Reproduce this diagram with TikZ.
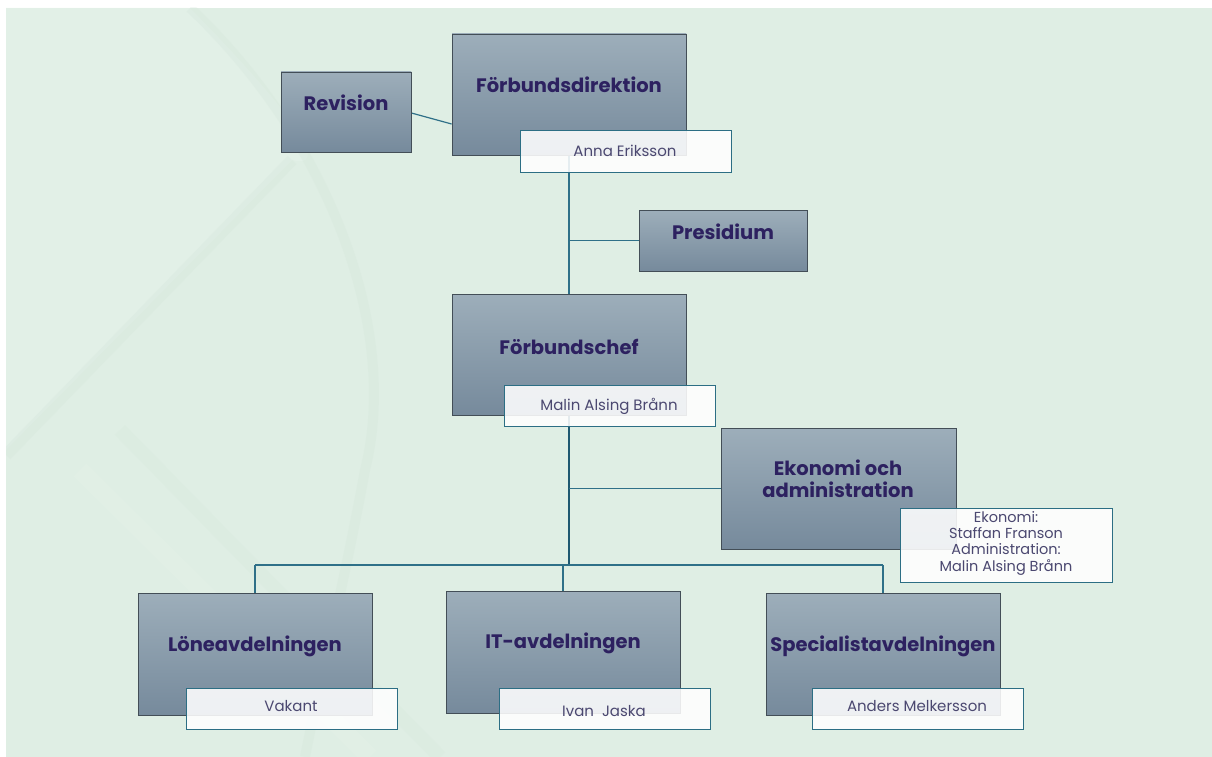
\documentclass[tikz,border=0pt]{standalone}
\usepackage{fontspec}
\setmainfont{Poppins}
\definecolor{bgc}{HTML}{DFEEE4}
\definecolor{bglight}{HTML}{E6F2EA}
\definecolor{bgdark}{HTML}{D2E4D8}
\definecolor{boxtop}{HTML}{9DAEBA}
\definecolor{boxbot}{HTML}{768A9C}
\definecolor{boxline}{HTML}{434E57}
\definecolor{teal2}{HTML}{2C6E84}
\definecolor{linec}{HTML}{2F7088}
\definecolor{linedark}{HTML}{1E5870}
\definecolor{titlec}{HTML}{2D2160}
\definecolor{namec}{HTML}{4B4870}
\begin{document}
\begin{tikzpicture}[x=1pt,y=-1pt,
  orgbox/.style={draw=boxline, line width=0.8pt, top color=boxtop, bottom color=boxbot, inner sep=0pt},
  namebox/.style={draw=teal2, line width=1pt, fill=white, fill opacity=0.88, inner sep=0pt, minimum width=211pt, minimum height=41pt},
  ttl/.style={font=\bfseries\fontsize{19.5}{22}\selectfont, text=titlec, align=center},
  person/.style={font=\fontsize{15}{16.3}\selectfont, text=namec, align=center},
  conn/.style={draw=linec, line width=1.2pt},
  mainconn/.style={draw=linedark, line width=2pt}]
% page and background
\useasboundingbox (0,0) rectangle (1212,757);
\fill[white] (0,0) rectangle (1212,757);
\fill[bgc] (6,8) rectangle (1212,757);
\begin{scope}
  \clip (6,8) rectangle (1212,757);
  \fill[bglight, opacity=0.5] (6,8) -- (190,8) .. controls (300,120) and (330,170) .. (292,160) -- (6,450) -- cycle;
  \draw[bgdark, line width=10pt, opacity=0.25] (190,8) .. controls (330,140) and (400,330) .. (365,470) .. controls (345,580) and (320,680) .. (305,757);
  \draw[bgdark, line width=12pt, opacity=0.25] (6,455) -- (292,160);
  \draw[bgdark, line width=14pt, opacity=0.18] (120,430) -- (440,757);
  \draw[bglight, line width=18pt, opacity=0.3] (80,470) -- (370,757);
\end{scope}
% box positions (named nodes)
\node[orgbox, minimum width=130pt, minimum height=80pt] (rev) at (346,112) {};
\node[orgbox, minimum width=234pt, minimum height=121pt] (dir) at (569,94.5) {};
\node[orgbox, minimum width=168pt, minimum height=61pt] (pres) at (723,240.5) {};
\node[orgbox, minimum width=234pt, minimum height=121pt] (chef) at (569,354.5) {};
\node[orgbox, minimum width=235pt, minimum height=121pt] (eko) at (838.5,488.5) {};
\node[orgbox, minimum width=234pt, minimum height=122pt] (lone) at (255,654) {};
\node[orgbox, minimum width=234pt, minimum height=122pt] (it) at (563,652) {};
\node[orgbox, minimum width=234pt, minimum height=122pt] (spec) at (883,654) {};
\coordinate (bus) at (569,565);
% connectors
\draw[conn] ([yshift=-1pt]rev.east) -- ([yshift=-29.5pt]dir.west);
\draw[conn] (dir.south) -- (chef.north);
\draw[conn] (chef.north |- pres.west) -- (pres.west);
\draw[mainconn] (chef.south) -- (bus);
\draw[conn] (chef.south |- eko.west) -- (eko.west);
\draw[conn] (lone.north |- bus) -- (spec.north |- bus);
\draw[conn] (lone.north |- bus) -- (lone.north);
\draw[conn] (it.north |- bus) -- (it.north);
\draw[conn] (spec.north |- bus) -- (spec.north);
% boxes redrawn on top of connectors
\node[orgbox, minimum width=130pt, minimum height=80pt] at (rev) {};
\node[orgbox, minimum width=234pt, minimum height=121pt] at (dir) {};
\node[orgbox, minimum width=168pt, minimum height=61pt] at (pres) {};
\node[orgbox, minimum width=234pt, minimum height=121pt] at (chef) {};
\node[orgbox, minimum width=235pt, minimum height=121pt] at (eko) {};
\node[orgbox, minimum width=234pt, minimum height=122pt] at (lone) {};
\node[orgbox, minimum width=234pt, minimum height=122pt] at (it) {};
\node[orgbox, minimum width=234pt, minimum height=122pt] at (spec) {};
% titles
\node[ttl] (revt) at (346,103) {Revision};
\node[ttl] (dirt) at (569,85) {Förbundsdirektion};
\node[ttl] (prest) at (723,232) {Presidium};
\node[ttl] (cheft) at (569,347) {Förbundschef};
\node[ttl] (ekot) at (838,479) {Ekonomi och\\administration};
\node[ttl] (lonet) at (255,646) {Löneavdelningen};
\node[ttl] (itt) at (563,643) {IT-avdelningen};
\node[ttl] (spect) at (883,646) {Specialistavdelningen};
% name boxes
\node[namebox] (anna) at (625.5,151.5) {};
\node[namebox] (malin) at (609.5,405.5) {};
\node[namebox, minimum width=212pt, minimum height=74pt] (ekon) at (1006,545) {};
\node[namebox] (vak) at (291.5,708.5) {};
\node[namebox] (ivan) at (604.5,708.5) {};
\node[namebox] (and) at (918,708.5) {};
\node[person] (annat) at (625,151) {Anna Eriksson};
\node[person] (malint) at (609,406) {Malin Alsing Brånn};
\node[person, font=\fontsize{14.5}{16.3}\selectfont] (ekont) at (1006,543) {Ekonomi:\\Staffan Franson\\Administration:\\Malin Alsing Brånn};
\node[person] (vakt) at (291,706) {Vakant};
\node[person] (ivant) at (604,711) {Ivan\ \ Jaska};
\node[person] (andt) at (917,706) {Anders Melkersson};
\end{tikzpicture}
\end{document}
